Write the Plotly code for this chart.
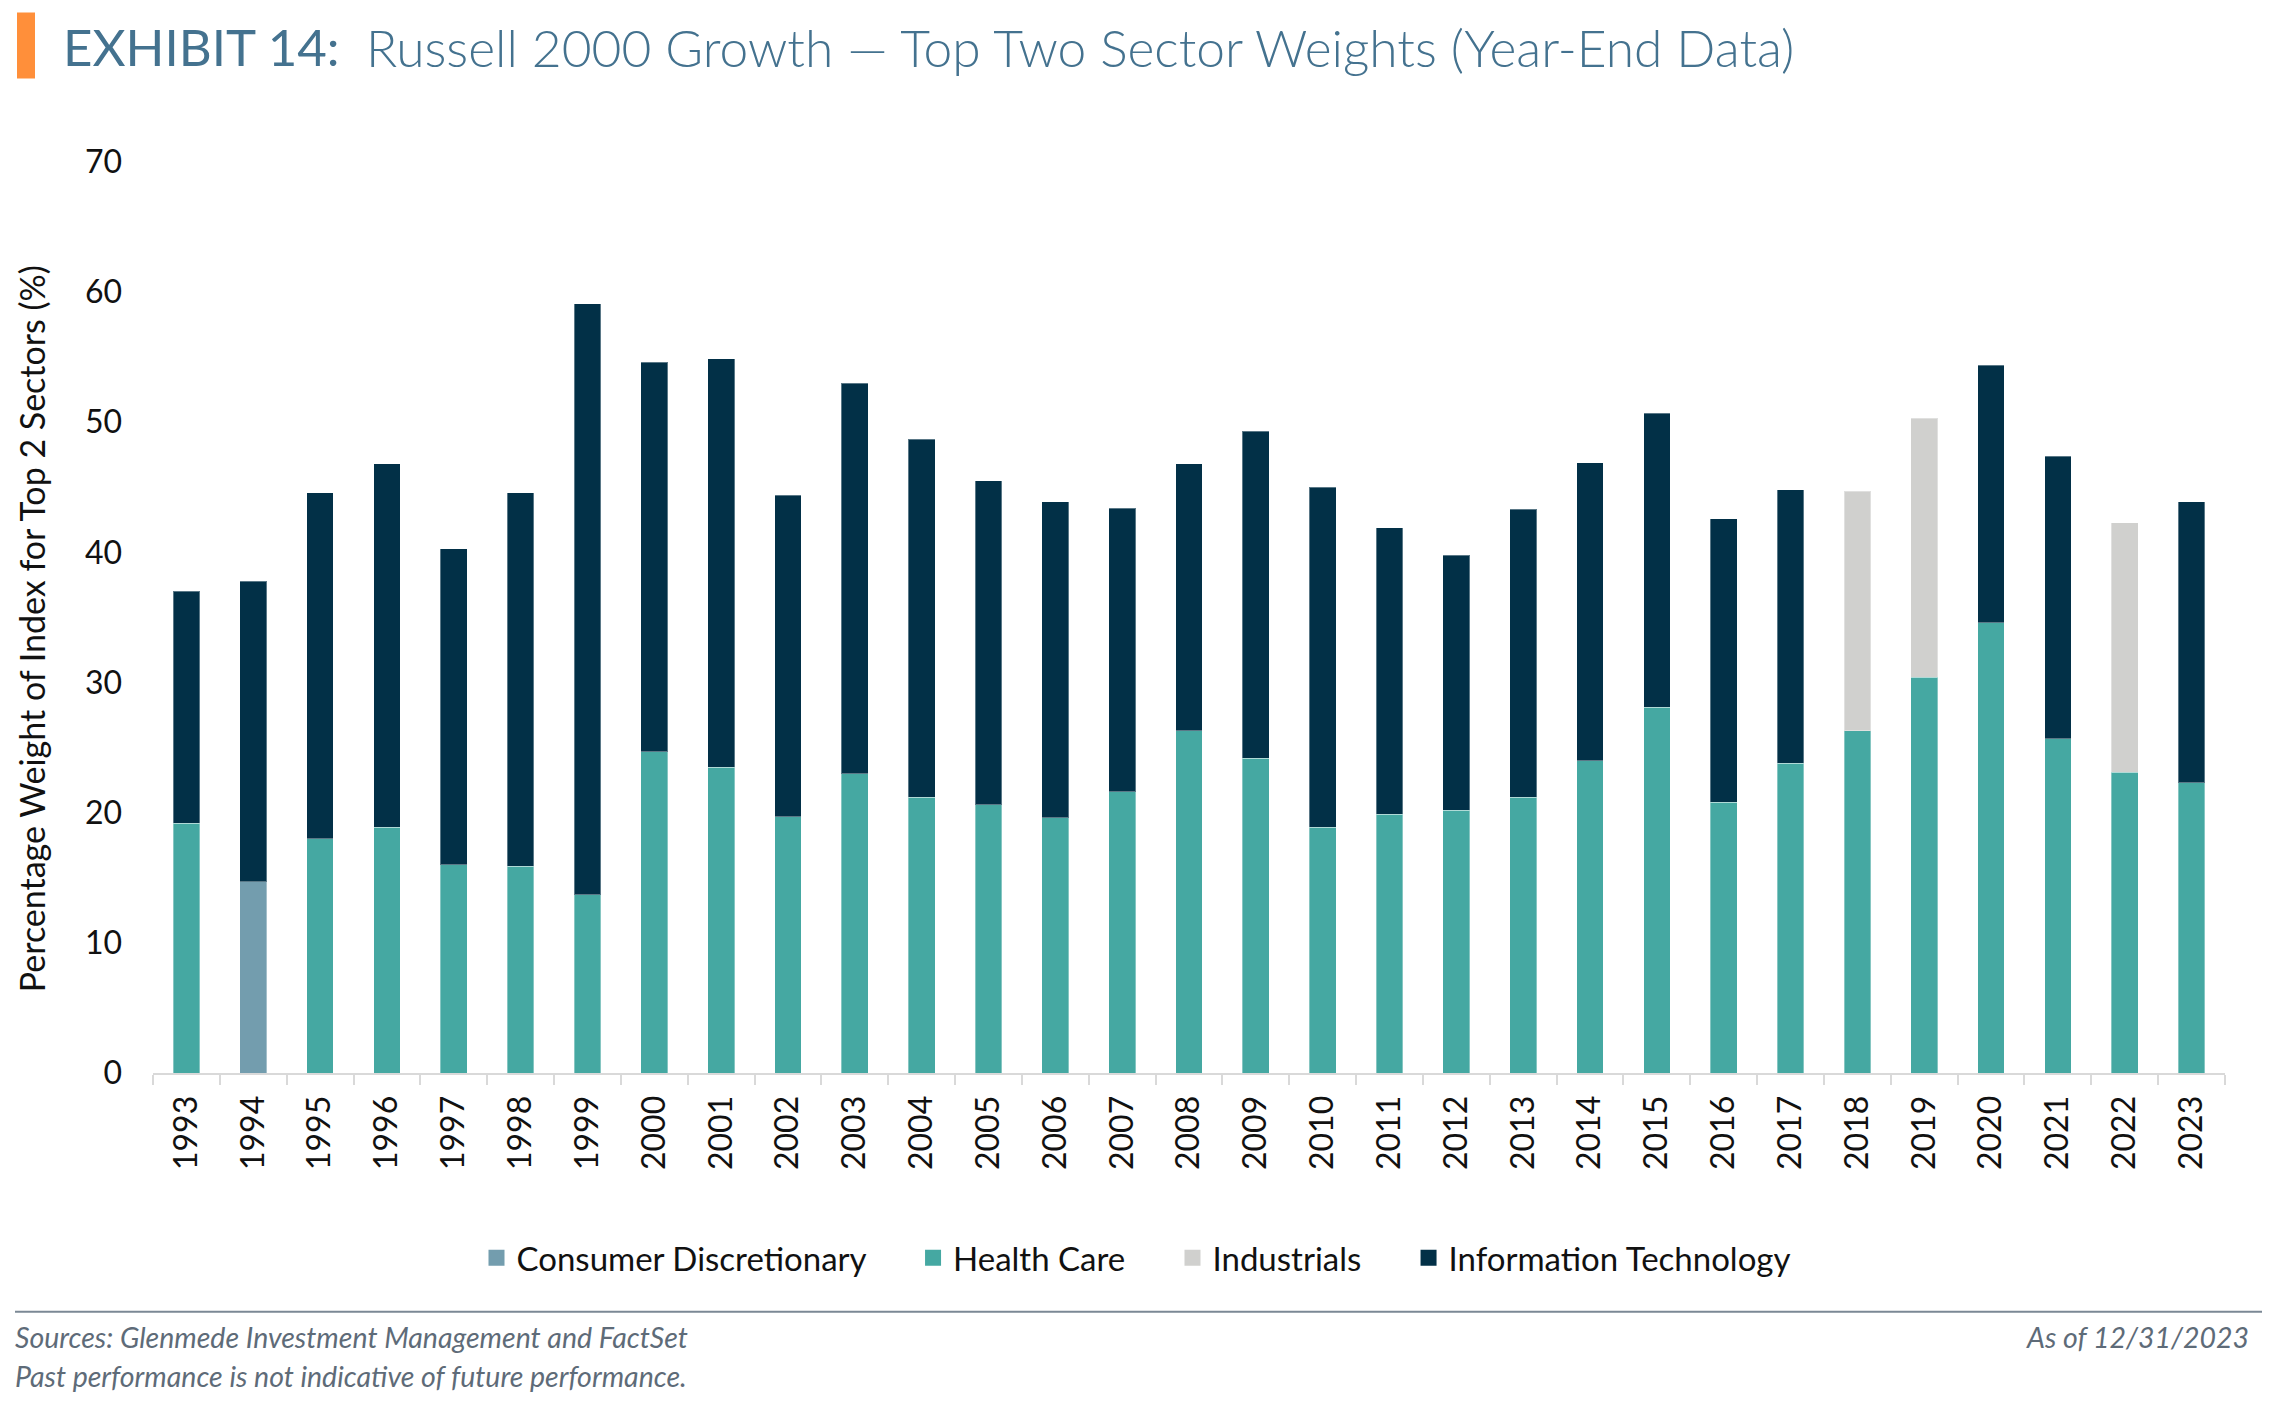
import plotly.graph_objects as go

years = [str(y) for y in range(1993, 2024)]

consumer_discretionary = [None, 14.7] + [None] * 29
health_care = [19.2, None, 18.0, 18.9, 16.0, 15.9, 13.7, 24.7, 23.5, 19.7,
               23.0, 21.2, 20.6, 19.6, 21.6, 26.3, 24.2, 18.9, 19.9, 20.2,
               21.2, 24.0, 28.1, 20.8, 23.8, 26.3, 30.4, 34.6, 25.7, 23.1, 22.3]
industrials = [None] * 25 + [18.4, 19.9, None, None, 19.2, None]
info_tech = [17.8, 23.1, 26.6, 27.9, 24.3, 28.7, 45.4, 29.9, 31.4, 24.7,
             30.0, 27.5, 24.9, 24.3, 21.8, 20.5, 25.1, 26.1, 22.0, 19.6,
             22.1, 22.9, 22.6, 21.8, 21.0, None, None, 19.8, 21.7, None, 21.6]

y_ticks = [0, 10, 20, 30, 40, 50, 60, 70]

series_names = ["Consumer Discretionary", "Health Care", "Industrials", "Information Technology"]
series_values = [consumer_discretionary, health_care, industrials, info_tech]
series_colors = ["#739DAE", "#45A8A2", "#D0D0CE", "#023047"]

W, H = 2294, 1428
L, R, T, B = 153, 2225, 161.5, 1073


def px(x):
    return (x - L) / (R - L)


def py(y):
    return (B - y) / (B - T)


fig = go.Figure()
for name, vals, col in zip(series_names, series_values, series_colors):
    fig.add_trace(go.Bar(
        x=years, y=vals, name=name, showlegend=False,
        marker=dict(color=col, line=dict(color="rgba(255,255,255,0.35)", width=1)),
    ))
# legend proxies (larger square swatches)
pad = "\u00a0" * 5
for i, (name, col) in enumerate(zip(series_names, series_colors)):
    fig.add_trace(go.Scatter(
        x=[None], y=[None], mode="markers", name=name + (pad if i < 3 else ""),
        marker=dict(symbol="square", size=18, color=col, line=dict(width=0)),
        showlegend=True,
    ))

font_main = "Lato, 'Open Sans', sans-serif"

fig.update_layout(
    width=W, height=H,
    margin=dict(l=L, r=W - R, t=T, b=H - B, pad=0),
    paper_bgcolor="white", plot_bgcolor="white",
    barmode="stack", bargap=0.6,
    font=dict(family=font_main, size=30, color="#111111"),
    showlegend=True,
    legend=dict(
        orientation="h", x=px(1136), y=py(1258), xanchor="center", yanchor="middle",
        traceorder="normal",
        font=dict(family=font_main, size=33, color="#111111"),
        itemclick=False, bgcolor="rgba(0,0,0,0)",
    ),
    xaxis=dict(
        type="category", tickangle=-90, showgrid=False, zeroline=False,
        showline=True, linecolor="#D9D9D9", linewidth=2,
        ticks="outside", tickson="boundaries", ticklen=10, tickcolor="#D9D9D9", tickwidth=2,
        tickfont=dict(family=font_main, size=32, color="#111111"),
        ticklabelstandoff=8,
    ),
    yaxis=dict(
        range=[0, 70], tickvals=y_ticks, showgrid=False, zeroline=False, showline=False,
        ticks="", tickfont=dict(family=font_main, size=32, color="#111111"),
        ticklabelstandoff=30,
    ),
)

annotations = [
    dict(text="Percentage Weight of Index for Top 2 Sectors (%)", x=px(31), y=py(629),
         textangle=-90, showarrow=False, xanchor="center", yanchor="middle",
         font=dict(family=font_main, size=34, color="#111111")),
    dict(text="EXHIBIT 14:", x=px(61), y=py(46), showarrow=False, xanchor="left", yanchor="middle",
         font=dict(family=font_main, size=51, color="#44728F", weight=400)),
    dict(text="Russell 2000 Growth \u2014 Top Two Sector Weights (Year-End Data)", x=px(364), y=py(46),
         showarrow=False, xanchor="left", yanchor="middle",
         font=dict(family=font_main, size=51.5, color="#44728F", weight=300)),
    dict(text="Sources: Glenmede Investment Management and FactSet", x=px(13), y=py(1337),
         showarrow=False, xanchor="left", yanchor="middle",
         font=dict(family=font_main, size=28.5, color="#5E6B78", style="italic")),
    dict(text="Past performance is not indicative of future performance.", x=px(13), y=py(1376),
         showarrow=False, xanchor="left", yanchor="middle",
         font=dict(family=font_main, size=28.5, color="#5E6B78", style="italic")),
    dict(text="As of 12/31/2023", x=px(2251), y=py(1337),
         showarrow=False, xanchor="right", yanchor="middle",
         font=dict(family=font_main, size=28.5, color="#5E6B78", style="italic")),
]
for a in annotations:
    a.update(xref="paper", yref="paper")
fig.update_layout(annotations=annotations)

shapes = [
    dict(type="rect", xref="paper", yref="paper", x0=px(17), x1=px(35), y0=py(78), y1=py(12),
         fillcolor="#FF8F3A", line=dict(width=0)),
    dict(type="line", xref="paper", yref="paper", x0=px(15), x1=px(2262), y0=py(1312), y1=py(1312),
         line=dict(color="#7B8895", width=2)),
]
fig.update_layout(shapes=shapes)

fig.write_html("out.html", config={"displayModeBar": False},
               post_script="document.body.style.margin='0';document.body.style.overflow='hidden';")
